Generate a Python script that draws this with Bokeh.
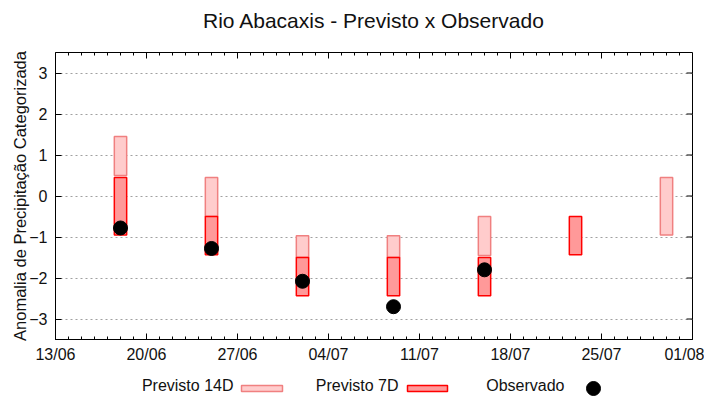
import math
import pandas as pd
from bokeh.plotting import figure
from bokeh.models import Range1d, FixedTicker, ColumnDataSource
from bokeh.layouts import column
from bokeh.embed import file_html
from bokeh.resources import INLINE
from bokeh.core.properties import value

nan = float("nan")

# ---- data ----
title_text = "Rio Abacaxis - Previsto x Observado"
y_label = "Anomalia de Precipitação Categorizada"
start_date = "2023-06-13"
end_date = "2023-08-01"
tick_dates = ["2023-06-13", "2023-06-20", "2023-06-27", "2023-07-04",
              "2023-07-11", "2023-07-18", "2023-07-25", "2023-08-01"]
tick_labels = ["13/06", "20/06", "27/06", "04/07", "11/07", "18/07", "25/07", "01/08"]
y_ticks = [-3, -2, -1, 0, 1, 2, 3]
y_min, y_max = -3.5, 3.5

dates = ["2023-06-18", "2023-06-25", "2023-07-02", "2023-07-09",
         "2023-07-16", "2023-07-23", "2023-07-30"]
p14_bottom = [0.50, -0.50, -1.50, -1.50, -1.45, nan, -0.95]
p14_top = [1.45, 0.45, -0.97, -0.97, -0.50, nan, 0.45]
p7_bottom = [-0.95, -1.43, -2.43, -2.43, -2.43, -1.43, nan]
p7_top = [0.45, -0.50, -1.50, -1.50, -1.50, -0.50, nan]
observed = [-0.78, -1.28, -2.08, -2.70, -1.80, nan, nan]

legend_labels = ["Previsto 14D", "Previsto 7D", "Observado"]

# ---- helpers ----
t0 = pd.Timestamp(start_date)
def day(d):
    return float((pd.Timestamp(d) - t0).days)

span = day(end_date)
xs = [day(d) for d in dates]
tick_x = [day(d) for d in tick_dates]
minor_x = [float(i) for i in range(int(span) + 1)]

def rows(x, a, b=None):
    out = {"x": [], "a": [], "b": []}
    for i, xv in enumerate(x):
        av = a[i]
        bv = b[i] if b is not None else 0.0
        if math.isnan(av) or math.isnan(bv):
            continue
        out["x"].append(xv)
        out["a"].append(av)
        out["b"].append(bv)
    return ColumnDataSource(out)

FONT = "Liberation Sans"
TXT = "#111111"
c14_fill, c14_line = "#ffcccc", "#f08080"
c7_fill, c7_line = "#ff9999", "#ff0000"

FX0, FX1 = 55, 692  # frame left/right in picture pixels (shared by the column)

def strip(height, y_top, y_bottom):
    s = figure(width=704, height=height, output_backend="svg", toolbar_location=None,
               x_range=Range1d(FX0, FX1), y_range=Range1d(y_bottom, y_top),
               min_border_left=0, min_border_right=0, min_border_top=0,
               min_border_bottom=0)
    s.axis.visible = False
    s.grid.visible = False
    s.outline_line_color = None
    s.background_fill_color = "white"
    s.border_fill_color = "white"
    return s

# ---- title strip ----
ts = strip(50, 0, 50)
ts.text(x=[(FX0 + FX1) / 2], y=[20], text=[title_text],
        text_font=value(FONT), text_font_size="21px", text_color=TXT,
        text_align="center", text_baseline="middle")

# ---- main plot ----
p = figure(width=704, height=320, output_backend="svg", toolbar_location=None,
           x_range=Range1d(0, span), y_range=Range1d(y_min, y_max),
           min_border_left=FX0, min_border_right=704 - FX1, min_border_top=2,
           min_border_bottom=31)
p.background_fill_color = "white"
p.border_fill_color = "white"
p.outline_line_color = "black"
p.outline_line_width = 1

xt = FixedTicker(ticks=tick_x, minor_ticks=minor_x)
yt = FixedTicker(ticks=y_ticks, minor_ticks=[])

def style_axis(ax):
    ax.axis_line_color = "black"
    ax.major_tick_line_color = "black"
    ax.minor_tick_line_color = "black"
    ax.major_tick_in = 6
    ax.major_tick_out = 0
    ax.minor_tick_in = 3
    ax.minor_tick_out = 0
    ax.major_label_text_font = FONT
    ax.major_label_text_font_size = "16px"
    ax.major_label_text_color = TXT

xa = p.xaxis[0]
xa.ticker = xt
xa.major_label_overrides = {tx: lab for tx, lab in zip(tick_x, tick_labels)}
style_axis(xa)
xa.major_label_standoff = 6

ya = p.yaxis[0]
ya.ticker = yt
style_axis(ya)
ya.major_label_standoff = 8
ya.axis_label = y_label
ya.axis_label_text_font = FONT
ya.axis_label_text_font_size = "16.5px"
ya.axis_label_text_font_style = "normal"
ya.axis_label_text_color = TXT
ya.axis_label_standoff = -3

p.xgrid.grid_line_color = None
p.ygrid.ticker = yt
p.ygrid.grid_line_color = "#a0a0a0"
p.ygrid.grid_line_dash = "2 3"
p.ygrid.grid_line_width = 1

# mirrored ticks on top and right edges (inward)
top_minor = [m for m in minor_x if m not in tick_x]
p.ray(x=tick_x, y=[y_max] * len(tick_x), length=6, length_units="screen",
      angle=-math.pi / 2, line_color="black", line_width=1)
p.ray(x=top_minor, y=[y_max] * len(top_minor), length=3, length_units="screen",
      angle=-math.pi / 2, line_color="black", line_width=1)
p.ray(x=[span] * len(y_ticks), y=y_ticks, length=6, length_units="screen",
      angle=math.pi, line_color="black", line_width=1)

bar_w = 0.95
p.vbar(x="x", bottom="a", top="b", width=bar_w, source=rows(xs, p14_bottom, p14_top),
       fill_color=c14_fill, line_color=c14_line, line_width=1.5)
p.vbar(x="x", bottom="a", top="b", width=bar_w, source=rows(xs, p7_bottom, p7_top),
       fill_color=c7_fill, line_color=c7_line, line_width=1.5)
p.scatter(x="x", y="a", source=rows(xs, observed), size=14, marker="circle",
          fill_color="black", line_color="black")

# ---- legend strip (coordinates = picture pixels) ----
lg = strip(26, 370, 396)
lg.text(x=[233, 398, 564], y=[385, 385, 385], text=legend_labels,
        text_font=value(FONT), text_font_size="16px", text_color=TXT,
        text_align="right", text_baseline="middle")
lg.quad(left=[241], right=[282], top=[385], bottom=[391],
        fill_color=c14_fill, line_color=c14_line, line_width=1.5)
lg.quad(left=[407], right=[447], top=[385], bottom=[391],
        fill_color=c7_fill, line_color=c7_line, line_width=1.5)
lg.scatter(x=[593], y=[388], size=14, marker="circle",
           fill_color="black", line_color="black")

layout = column(ts, p, lg, spacing=0)
open("out.html", "w").write(file_html(layout, INLINE))
